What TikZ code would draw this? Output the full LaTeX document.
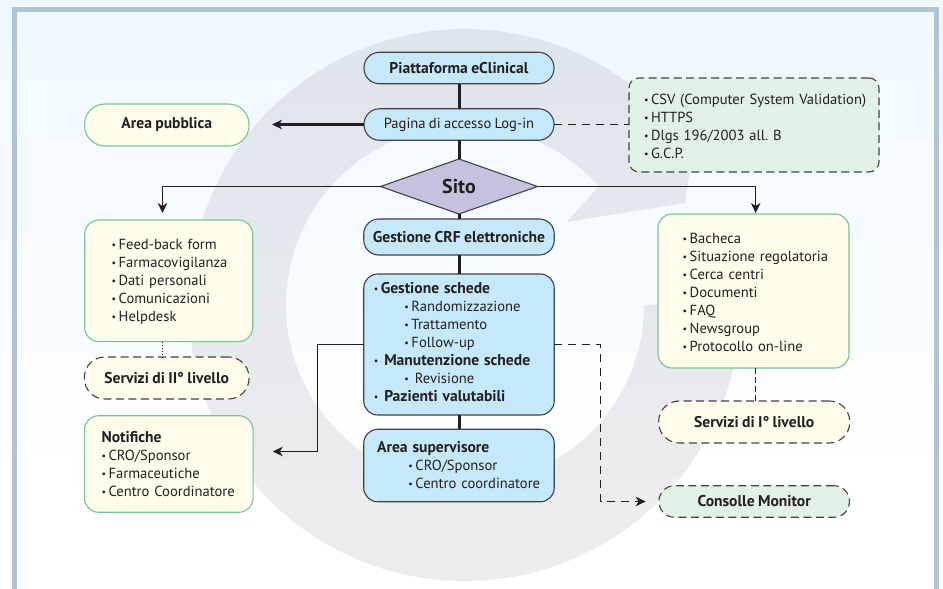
\documentclass[tikz,border=0pt]{standalone}
\usepackage{fontspec}
\setmainfont[WordSpace=0.85]{PT Sans}
\usetikzlibrary{arrows.meta,shapes.geometric}
\definecolor{ink}{HTML}{231F20}
\definecolor{frameb}{HTML}{B0C4D6}
\definecolor{skyb}{HTML}{C5E8FA}
\definecolor{cream}{HTML}{FFFCEB}
\definecolor{mint}{HTML}{E2F1E6}
\definecolor{greenl}{HTML}{72C594}
\definecolor{lilac}{HTML}{C5C2E0}
\definecolor{paleb}{HTML}{EFF8FF}
\newcommand\bu[1][7]{\makebox[#1pt][l]{\fontsize{10}{10}\selectfont\raisebox{1pt}{•}}}
\newcommand\ii[1]{\hspace*{#1pt}}
\newcommand\bt[1]{{\fontsize{15.6}{18}\selectfont\bfseries #1}}
\newcommand\dn[2]{\raisebox{-#1pt}{#2}}
\tikzset{
  x=1pt,y=-1pt,
  base/.style={inner sep=0pt,outer sep=0pt,text=ink,font=\fontsize{14.6}{18}\selectfont\frenchspacing,align=center},
  bluebox/.style={base,draw=ink!85,line width=1.1pt,fill=skyb},
  greenbox/.style={base,draw=greenl,line width=1.1pt,fill=cream},
  dashbox/.style={base,draw=ink!85,line width=1.1pt,dash pattern=on 8pt off 4.5pt},
  mainline/.style={draw=ink,line width=3pt},
  thinline/.style={draw=ink,line width=1.2pt},
  dashline/.style={draw=ink,line width=1.1pt,dash pattern=on 8pt off 6pt},
  tip/.style={-{Stealth[length=10pt,width=9.5pt,inset=3pt]}},
}
\begin{document}
\begin{tikzpicture}
\useasboundingbox (0,0) rectangle (943,589);
% background
\shade[top color=paleb,bottom color=white] (0,0) rectangle (943,490);
\fill[frameb] (12.3,7.3) rectangle (939.3,12.3);
\fill[frameb] (12.3,7.3) rectangle (17.3,589);
\fill[frameb] (934.3,7.3) rectangle (939.3,589);
% grey circular arrow
\begin{scope}[x=1pt,y=1pt,shift={(465pt,-305pt)}]
\fill[fill={rgb,255:red,70;green,60;blue,80},fill opacity=.1]
  (0:179) arc[start angle=0,end angle=-318.4,radius=179]
  -- (102,83) -- (220,102) -- (228,155)
  arc[start angle=-325.8,end angle=1,radius=276] -- cycle;
\end{scope}
% central column
\node[bluebox,rounded corners=15.5pt,minimum width=190pt,minimum height=31.5pt] (plat) at (459,68) {\dn{1}{\bt{Piattaforma eClinical}}};
\node[bluebox,rounded corners=15.5pt,minimum width=190pt,minimum height=31.5pt] (login) at (459,124.5) {\dn{2}{Pagina di accesso Log-in}};
\node[base,draw=ink!85,line width=1.1pt,fill=lilac,diamond,aspect=2.8,minimum width=157pt,minimum height=55pt,font=\fontsize{20}{20}\selectfont\bfseries] (sito) at (459,186.5) {Sito};
\node[bluebox,rounded corners=15pt,minimum width=190.5pt,minimum height=36pt] (crf) at (459,237) {\dn{2}{\bt{Gestione CRF elettroniche}}};
\node[bluebox,rounded corners=14pt,minimum width=190.5pt,minimum height=141pt,text width=190.5pt,align=left] (gs) at (459,344.5) {%
\ii{10}\bu\bt{Gestione schede}\\
\ii{40.7}\bu Randomizzazione\\
\ii{40.7}\bu Trattamento\\
\ii{40.7}\bu Follow-up\\
\ii{10}\bu[10.5]\bt{Manutenzione schede}\\
\ii{40.7}\bu[10.5]Revisione\\
\ii{10}\bu[10.5]\bt{Pazienti valutabili}\par\vspace{4pt}};
\node[bluebox,rounded corners=14pt,minimum width=190.5pt,minimum height=72.5pt,text width=190.5pt,align=left] (sup) at (459,465.5) {%
\ii{13.4}\bt{Area supervisore}\\
\ii{44.7}\bu CRO/Sponsor\\
\ii{44.7}\bu Centro coordinatore};
% left column
\node[greenbox,rounded corners=20.5pt,minimum width=164.5pt,minimum height=42pt] (pub) at (166.8,125) {\dn{2}{\bt{Area pubblica}}};
\node[greenbox,rounded corners=14pt,minimum width=168pt,minimum height=121.6pt,text width=168pt,align=left] (lbox) at (168.7,280.8) {%
\rule{0pt}{13pt}\ii{27}\bu Feed-back form\\
\ii{27}\bu Farmacovigilanza\\
\ii{27}\bu Dati personali\\
\ii{27}\bu Comunicazioni\\
\ii{27}\bu Helpdesk};
\node[dashbox,fill=cream,rounded corners=20.5pt,minimum width=164.7pt,minimum height=42pt] (s2) at (166.7,378) {\dn{1}{\bt{Servizi di II° livello}}};
\node[greenbox,rounded corners=14pt,minimum width=168.5pt,minimum height=96.5pt,text width=168.5pt,align=left] (notif) at (168.8,464) {%
\ii{17}\bt{Notifiche}\\
\ii{17}\bu CRO/Sponsor\\
\ii{17}\bu Farmaceutiche\\
\ii{17}\bu Centro Coordinatore};
% right column
\node[dashbox,fill=mint,rounded corners=10pt,minimum width=250pt,minimum height=94pt,text width=250pt,align=left] (reg) at (754,125) {%
\rule{0pt}{13pt}\ii{15}\bu CSV (Computer System Validation)\\
\ii{15}\bu HTTPS\\
\ii{15}\bu Dlgs 196/2003 all. B\\
\ii{15}\bu G.C.P.};
\node[greenbox,rounded corners=14pt,minimum width=191pt,minimum height=154pt,text width=191pt,align=left] (rbox) at (753.5,291) {%
\rule{0pt}{13pt}\ii{24.7}\bu Bacheca\\
\ii{24.7}\bu Situazione regolatoria\\
\ii{24.7}\bu Cerca centri\\
\ii{24.7}\bu Documenti\\
\ii{24.7}\bu FAQ\\
\ii{24.7}\bu Newsgroup\\
\ii{24.7}\bu Protocollo on-line};
\node[dashbox,fill=cream,rounded corners=20.5pt,minimum width=191pt,minimum height=42pt] (s1) at (754.2,422) {\dn{1}{\bt{Servizi di I° livello}}};
\node[dashbox,fill=mint,rounded corners=15.5pt,minimum width=190.5pt,minimum height=31.5pt] (mon) at (754.2,501.5) {\dn{1.5}{\bt{Consolle Monitor}}};
% free ends of connectors
\coordinate (la) at (162.5,220);
\coordinate (ra) at (755.7,214);
\coordinate (nk) at (317.5,451.5);
\coordinate (ck) at (600.7,501.5);
\coordinate (ld) at (162.7,341.6);
\coordinate (ld2) at (162.7,357);
\coordinate (rd) at (755,368);
\coordinate (rd2) at (755,401);
% connectors
\draw[mainline] (plat.south) -- (login.north);
\draw[mainline] (login.south) -- (sito.north);
\draw[mainline] (sito.south) -- (crf.north);
\draw[mainline] (crf.south) -- (gs.north);
\draw[mainline] (gs.south) -- (sup.north);
\draw[draw=ink,line width=2.2pt,tip,shorten >=23pt] (login.west) -- (pub.east |- login.west);
\draw[dashline] (login.east) -- (reg.west |- login.east);
\draw[thinline,tip,shorten >=7pt] (sito.west) -| (la);
\draw[thinline,tip,shorten >=1pt] (sito.east) -| (ra);
\draw[thinline,tip,shorten >=19.7pt] (gs.west) -| (nk) -- (notif.east |- nk);
\draw[dashline,tip,shorten >=13.3pt] (gs.east) -| (ck) -- (mon.west);
\draw[line width=1pt,dotted,draw=ink] (ld) -- (ld2);
\draw[line width=1pt,dash pattern=on 6pt off 3pt,draw=ink] (rd) -- (rd2);
\end{tikzpicture}
\end{document}
